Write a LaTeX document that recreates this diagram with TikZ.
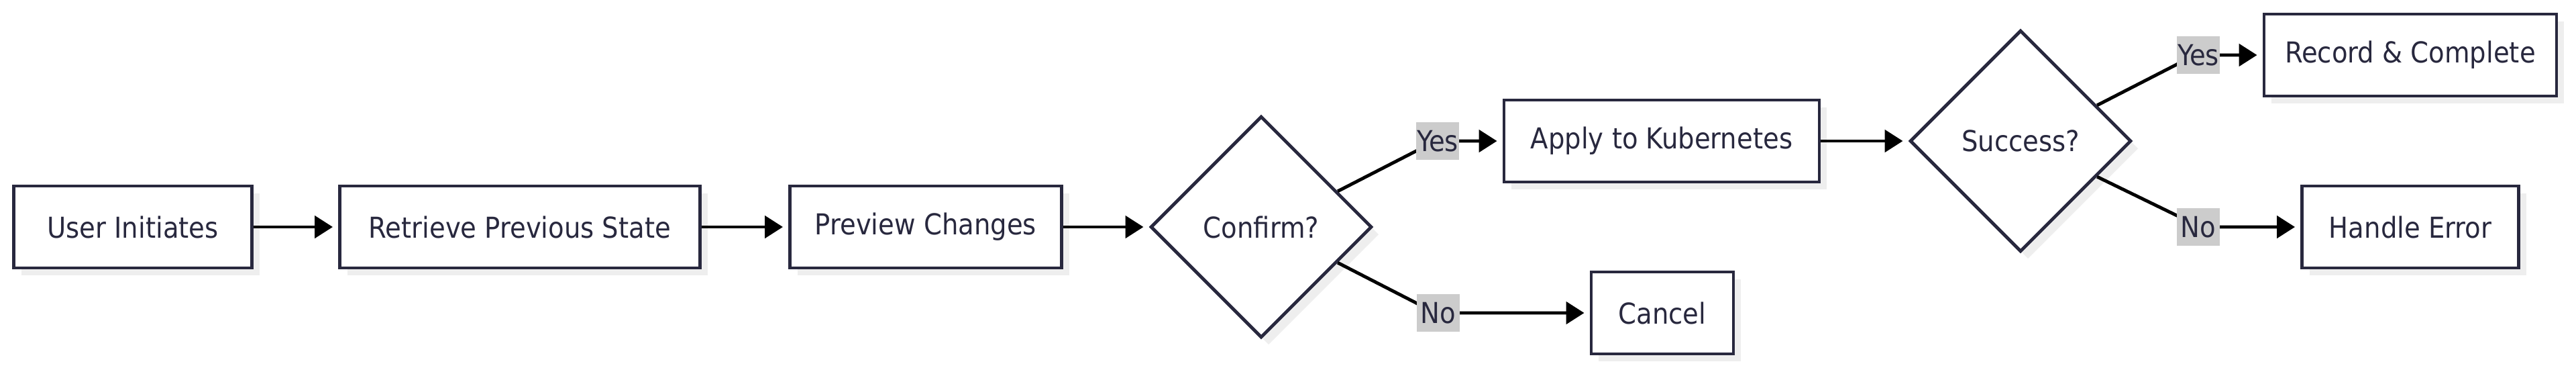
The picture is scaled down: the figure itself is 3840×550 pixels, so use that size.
\documentclass[tikz,border=0pt]{standalone}
\usepackage{fontspec}
\setmainfont{DejaVu Sans Condensed}
\definecolor{flowink}{RGB}{40, 40, 62}
\definecolor{answergray}{RGB}{204, 204, 204}
\definecolor{shadowgray}{RGB}{238, 238, 238}
\usetikzlibrary{shapes.geometric, arrows.meta, shadows}

\begin{document}
\begin{tikzpicture}[x=0.1mm, y=-0.1mm,
  every node/.style={font=\fontsize{12.2}{14}\selectfont, text=flowink},
  stepbox/.style={draw=flowink, line width=1.4pt, fill=white, minimum height=12.2mm,
    drop shadow={shadow xshift=1.1mm, shadow yshift=-1.1mm, fill=shadowgray, opacity=1}},
  decision/.style={diamond, aspect=1, inner sep=0pt, draw=flowink, line width=1.4pt, fill=white,
    minimum width=33mm, minimum height=33mm,
    drop shadow={shadow xshift=1.1mm, shadow yshift=-1.1mm, fill=shadowgray, opacity=1}},
  flow/.style={-{Triangle[length=2.7mm, width=3.3mm]}, line width=1.4pt, shorten >=0.8mm},
  answer/.style={fill=answergray, inner sep=0pt, minimum width=6.4mm, minimum height=5.6mm}]
  \useasboundingbox (0,0) rectangle (3840,550);
  \fill[white] (0,0) rectangle (3840,550);

  \node[stepbox, minimum width=35.5mm] (user) at (198,338) {User Initiates};
  \node[stepbox, minimum width=53.7mm] (retrieve) at (775,338) {Retrieve Previous State};
  \node[stepbox, minimum width=40.5mm] (preview) at (1380,338) {Preview Changes};
  \node[decision] (confirm) at (1880,338) {Confirm?};
  \node[stepbox, minimum width=47mm] (apply) at (2477,210) {Apply to Kubernetes};
  \node[stepbox, minimum width=21.2mm] (cancel) at (2478,466) {Cancel};
  \node[decision] (success) at (3012,210) {Success?};
  \node[stepbox, minimum width=43.6mm] (record) at (3593,82) {Record \& Complete};
  \node[stepbox, minimum width=32.3mm] (handle) at (3593,338) {Handle Error};

  \draw[flow] (user) -- (retrieve);
  \draw[flow] (retrieve) -- (preview);
  \draw[flow] (preview) -- (confirm);
  \draw[flow, rounded corners=3mm] (confirm.25) -- (2140,210) -- (apply);
  \draw[flow, rounded corners=3mm] (confirm.-25) -- (2140,466) -- (cancel);
  \draw[flow] (apply) -- (success);
  \draw[flow, rounded corners=3mm] (success.25) -- (3272,82) -- (record);
  \draw[flow, rounded corners=3mm] (success.-25) -- (3280,338) -- (handle);

  \node[answer] (yes1) at (2143,210) {Yes};
  \node[answer] (no1) at (2144,466) {No};
  \node[answer] (yes2) at (3277,82) {Yes};
  \node[answer] (no2) at (3277,338) {No};
\end{tikzpicture}
\end{document}
